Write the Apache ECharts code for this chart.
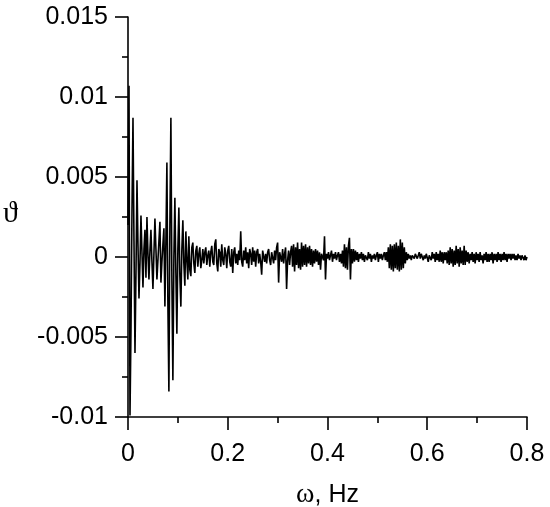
<!DOCTYPE html>
<html>
<head>
<meta charset="utf-8">
<script src="https://cdn.jsdelivr.net/npm/echarts@6/dist/echarts.min.js"></script>
<style>html,body{margin:0;padding:0;background:#fff}#c{width:550px;height:507px}</style>
</head>
<body>
<div id="c"></div>
<script>
// spectrum sampled every 0.002 Hz, starting at 0 Hz
const freqStep = 0.002;
const theta = [
 0.0020, 0.0107,-0.0099,-0.0045, 0.0030, 0.0087, 0.0010,-0.0060,-0.0010, 0.0048,
 0.0008,-0.0026,-0.0004, 0.0026, 0.0003,-0.0019, 0.0005, 0.0017,-0.0013, 0.0025,
 0.0002,-0.0014, 0.0004, 0.0017,-0.0003,-0.0020, 0.0002, 0.0024, 0.0005,-0.0014,
-0.0002, 0.0010, 0.0022,-0.0016,-0.0003, 0.0008, 0.0018,-0.0031, 0.0010, 0.0059,
-0.0030,-0.0084, 0.0020, 0.0087,-0.0015,-0.0077, 0.0000, 0.0037,-0.0010,-0.0048,
 0.0005, 0.0031,-0.0012,-0.0031, 0.0005, 0.0023,-0.0004,-0.0018, 0.0016,-0.0002,
-0.0014, 0.0013,-0.0008,-0.0012, 0.0006, 0.0009,-0.0004,-0.0010, 0.0004, 0.0007,
-0.0006, 0.0002, 0.0006,-0.0007,-0.0002, 0.0005,-0.0004, 0.0003, 0.0006,-0.0005,
 0.0001, 0.0004,-0.0006, 0.0003, 0.0007,-0.0003,-0.0005, 0.0008, 0.0011,-0.0004,
-0.0009, 0.0005, 0.0003,-0.0006, 0.0008,-0.0002,-0.0005, 0.0006, 0.0002,-0.0007,
 0.0004, 0.0007,-0.0003,-0.0006, 0.0005,-0.0010, 0.0003, 0.0006,-0.0004, 0.0002,
-0.0005, 0.0004,-0.0002, 0.0016,-0.0003,-0.0006, 0.0004,-0.0002, 0.0006,-0.0004,
 0.0003,-0.0007, 0.0005, 0.0002,-0.0005, 0.0006,-0.0003, 0.0004,-0.0006, 0.0003,
 0.0005,-0.0004, 0.0002,-0.0003,-0.0011, 0.0004, 0.0005,-0.0003, 0.0002,-0.0004,
 0.0003, 0.0005,-0.0002,-0.0005, 0.0003, 0.0002,-0.0004, 0.0004,-0.0002, 0.0006,
 0.0009,-0.0016, 0.0003, 0.0004,-0.0003, 0.0005,-0.0004, 0.0002, 0.0006,-0.0020,
-0.0002, 0.0004,-0.0005, 0.0003, 0.0007,-0.0006, 0.0008,-0.0009, 0.0006,-0.0005,
 0.0009,-0.0007, 0.0005,-0.0008, 0.0009,-0.0006, 0.0007,-0.0005, 0.0008,-0.0006,
 0.0006,-0.0004, 0.0007,-0.0005, 0.0005,-0.0006, 0.0004,-0.0004, 0.0005,-0.0003,
 0.0004,-0.0005, 0.0003,-0.0008, 0.0002, 0.0003,-0.0002, 0.0013,-0.0014, 0.0002,
-0.0001, 0.0003,-0.0002, 0.0001, 0.0004,-0.0003, 0.0002,-0.0001, 0.0003,-0.0002,
 0.0001, 0.0003,-0.0003, 0.0002,-0.0004, 0.0004,-0.0006, 0.0008,-0.0007, 0.0006,
-0.0008, 0.0007, 0.0012,-0.0014, 0.0005,-0.0004, 0.0005,-0.0003, 0.0004,-0.0002,
 0.0003,-0.0003, 0.0002,-0.0001, 0.0003,-0.0002, 0.0002,-0.0003, 0.0001, 0.0002,
-0.0002, 0.0003,-0.0001, 0.0002,-0.0003, 0.0001,-0.0001, 0.0002,-0.0002, 0.0001,
 0.0003,-0.0003, 0.0002,-0.0001, 0.0002,-0.0002, 0.0001, 0.0003,-0.0002, 0.0003,
-0.0003, 0.0006,-0.0007, 0.0008,-0.0008, 0.0007,-0.0009, 0.0008,-0.0007, 0.0009,
-0.0008, 0.0007,-0.0009, 0.0011,-0.0008, 0.0009,-0.0007, 0.0006,-0.0004, 0.0003,
-0.0002, 0.0002,-0.0001, 0.0001,-0.0002, 0.0001, 0.0000,-0.0001, 0.0002, 0.0001,
-0.0001, 0.0001, 0.0003,-0.0001, 0.0002, 0.0001,-0.0002, 0.0001,-0.0001, 0.0002,
 0.0001,-0.0003, 0.0001, 0.0002,-0.0002, 0.0003,-0.0001, 0.0002,-0.0003, 0.0003,
-0.0002, 0.0002,-0.0003, 0.0004,-0.0003, 0.0003,-0.0004, 0.0003,-0.0002, 0.0003,
-0.0004, 0.0004,-0.0005, 0.0006,-0.0004, 0.0005,-0.0006, 0.0004,-0.0005, 0.0007,
-0.0004, 0.0005,-0.0006, 0.0006,-0.0004, 0.0004,-0.0005, 0.0007,-0.0005, 0.0004,
-0.0003, 0.0003,-0.0004, 0.0002,-0.0002, 0.0003,-0.0003, 0.0002,-0.0004, 0.0003,
-0.0002, 0.0002,-0.0003, 0.0003,-0.0002, 0.0001,-0.0004, 0.0002,-0.0002, 0.0003,
-0.0003, 0.0002,-0.0003, 0.0002,-0.0002, 0.0003,-0.0004, 0.0002,-0.0002, 0.0002,
-0.0003, 0.0003,-0.0002, 0.0002,-0.0003, 0.0002,-0.0002, 0.0003,-0.0002, 0.0002,
-0.0003, 0.0002,-0.0001, 0.0002,-0.0002, 0.0002,-0.0001, 0.0002,-0.0002, 0.0001,
-0.0002, 0.0002,-0.0001, 0.0001,-0.0002, 0.0001, 0.0002,-0.0002, 0.0001,-0.0002,
 0.0000
];
const xTicks = {min: 0, max: 0.8, interval: 0.2};
const yTicks = {min: -0.01, max: 0.015, interval: 0.005};

const data = theta.map((v, i) => [Math.round(i * freqStep * 1000) / 1000, v]);

const chart = echarts.init(document.getElementById('c'), null, {renderer: 'canvas'});
const sans = 'Liberation Sans, Arial, sans-serif';
const serif = 'Liberation Serif, Times New Roman, serif';
function axisCommon() {
  return {
    axisLine: {show: true, onZero: false, lineStyle: {color: '#000', width: 1.6}},
    axisTick: {show: true, inside: false, length: 13, lineStyle: {color: '#000', width: 1.6}},
    minorTick: {show: true, splitNumber: 2, length: 6, lineStyle: {color: '#000', width: 1.6}},
    splitLine: {show: false},
    minorSplitLine: {show: false}
  };
}
chart.setOption({
  animation: false,
  backgroundColor: '#fff',
  grid: {left: 128, right: 23, top: 17, bottom: 90, containLabel: false, outerBoundsMode: 'none'},
  xAxis: Object.assign({
    type: 'value', min: xTicks.min, max: xTicks.max, interval: xTicks.interval,
    axisLabel: {color: '#000', fontSize: 25, fontFamily: sans, margin: 25},
    name: '{a|ω}{b|, Hz}',
    nameLocation: 'middle', nameGap: 64,
    nameTextStyle: {
      rich: {
        a: {fontFamily: serif, fontSize: 28, color: '#000'},
        b: {fontFamily: sans, fontSize: 25, color: '#000'}
      }
    }
  }, axisCommon()),
  yAxis: Object.assign({
    type: 'value', min: yTicks.min, max: yTicks.max, interval: yTicks.interval,
    axisLabel: {color: '#000', fontSize: 25, fontFamily: sans, margin: 20}
  }, axisCommon()),
  graphic: [{
    type: 'text', left: 3, top: 199,
    style: {text: 'ϑ', fontSize: 30, fontFamily: serif, fill: '#000'}
  }],
  series: [{
    type: 'line', data: data, showSymbol: false, symbol: 'none', sampling: null,
    lineStyle: {color: '#000', width: 1.6}
  }]
});
</script>
</body>
</html>
